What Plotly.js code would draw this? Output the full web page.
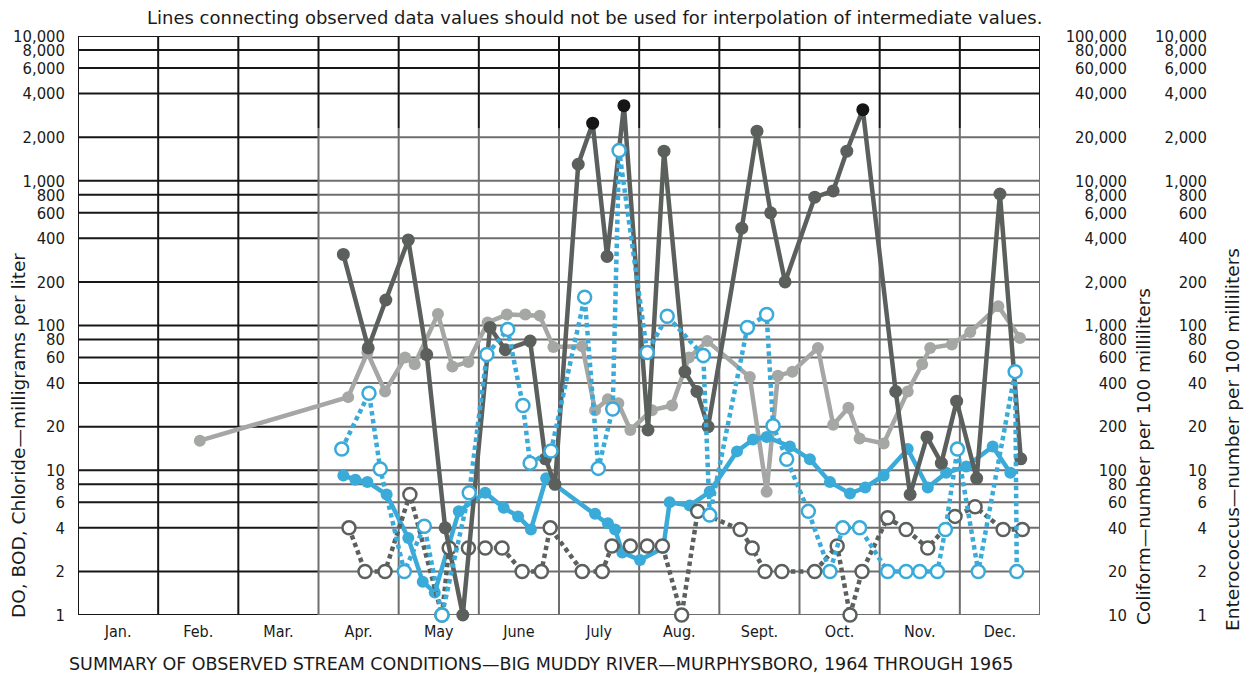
<!DOCTYPE html>
<html>
<head>
<meta charset="utf-8">
<script src="https://cdn.plot.ly/plotly-3.0.1.min.js"></script>
<style>
  html, body { margin: 0; padding: 0; background: #ffffff; }
  #chart { width: 1252px; height: 676px; }
</style>
</head>
<body>
<div id="chart"></div>
<script>
// ---------------- DATA ----------------
// x positions are expressed in months from Jan. 1 (0 = start of Jan., 12 = end of Dec.)
const monthLabels = ['Jan.', 'Feb.', 'Mar.', 'Apr.', 'May', 'June', 'July', 'Aug.', 'Sept.', 'Oct.', 'Nov.', 'Dec.'];
const monthCenters = [0.5, 1.5, 2.5, 3.5, 4.5, 5.5, 6.5, 7.5, 8.5, 9.5, 10.5, 11.5];

// Left scale ticks (DO, BOD, Chloride, mg/l)
const leftTicks = [1, 2, 4, 6, 8, 10, 20, 40, 60, 80, 100, 200, 400, 600, 800, 1000, 2000, 4000, 6000, 8000, 10000];
// Coliform scale ticks (number per 100 ml)
const coliformTicks = [10, 20, 40, 60, 80, 100, 200, 400, 600, 800, 1000, 2000, 4000, 6000, 8000, 10000, 20000, 40000, 60000, 80000, 100000];
// Enterococcus scale ticks (number per 100 ml)
const enteroTicks = [1, 2, 4, 6, 8, 10, 20, 40, 60, 80, 100, 200, 400, 600, 800, 1000, 2000, 4000, 6000, 8000, 10000];

// Coliform (dark grey, solid, filled circles) - number per 100 ml
const coliformX = [3.31, 3.62, 3.84, 4.12, 4.35, 4.58, 4.80, 5.14, 5.33, 5.64, 5.83, 5.95, 6.24, 6.42, 6.60, 6.81, 7.11, 7.31, 7.57, 7.72, 7.86, 8.28, 8.47, 8.64, 8.82, 9.19, 9.42, 9.59, 9.79, 10.20, 10.38, 10.59, 10.77, 10.96, 11.21, 11.50, 11.76];
const coliformY = [3100, 700, 1500, 3900, 630, 40, 10, 970, 680, 780, 120, 80, 13000, 25000, 3000, 33000, 190, 16000, 480, 350, 200, 4700, 22000, 6000, 2000, 7700, 8500, 16000, 31000, 350, 68, 170, 112, 300, 88, 8100, 120];

// Chloride (light grey, solid, filled circles) - mg/l
const chlorideX = [1.52, 3.37, 3.61, 3.83, 4.08, 4.20, 4.49, 4.67, 4.87, 5.11, 5.35, 5.58, 5.76, 5.93, 6.29, 6.45, 6.61, 6.74, 6.89, 7.16, 7.41, 7.62, 7.85, 8.38, 8.59, 8.73, 8.91, 9.23, 9.42, 9.61, 9.75, 10.05, 10.35, 10.53, 10.63, 10.90, 11.13, 11.48, 11.75];
const chlorideY = [16, 32, 65, 35, 60, 54, 120, 52, 56, 105, 119, 119, 117, 71, 72, 26, 31, 29, 19, 26, 28, 60, 78, 44, 7.1, 45, 48, 70, 20.6, 27, 16.6, 15.3, 35, 54, 70, 74, 90, 136, 82];

// Dissolved oxygen (blue, solid, filled circles) - mg/l
const doX = [3.31, 3.46, 3.61, 3.85, 4.12, 4.30, 4.45, 4.75, 5.08, 5.31, 5.49, 5.65, 5.84, 6.45, 6.61, 6.70, 6.79, 7.01, 7.30, 7.38, 7.63, 7.88, 8.22, 8.42, 8.59, 8.88, 9.13, 9.38, 9.63, 9.82, 10.05, 10.35, 10.60, 10.83, 11.08, 11.41, 11.63];
const doY = [9.2, 8.6, 8.3, 6.8, 3.4, 1.7, 1.43, 5.2, 7.0, 5.5, 4.8, 3.9, 8.8, 5.0, 4.3, 3.9, 2.7, 2.4, 2.9, 6.0, 5.7, 7.1, 13.5, 16.3, 17, 14.6, 11.9, 8.3, 6.9, 7.6, 9.2, 14, 7.6, 9.6, 10.6, 14.6, 9.6];

// Enterococcus (blue, dotted, open circles) - number per 100 ml
const enteroX = [3.29, 3.63, 3.77, 4.07, 4.32, 4.54, 4.88, 5.10, 5.36, 5.55, 5.64, 5.90, 6.32, 6.49, 6.67, 6.75, 7.10, 7.35, 7.80, 7.88, 8.35, 8.59, 8.67, 8.84, 9.11, 9.38, 9.54, 9.75, 10.10, 10.33, 10.50, 10.72, 10.82, 10.97, 11.23, 11.69, 11.71];
const enteroY = [14, 34, 10.2, 2.0, 4.1, 1.0, 7.0, 63, 94, 28, 11.2, 13.6, 157, 10.3, 26.5, 1620, 65, 116, 62, 4.9, 97, 119, 20.3, 11.9, 5.2, 2.0, 4.0, 4.0, 2.0, 2.0, 2.0, 2.0, 3.9, 14, 2.0, 48, 2.0];

// BOD (dark grey, dotted, open circles) - mg/l
const bodX = [3.38, 3.58, 3.83, 4.14, 4.54, 4.63, 4.87, 5.08, 5.29, 5.54, 5.78, 5.89, 6.29, 6.54, 6.66, 6.89, 7.10, 7.29, 7.53, 7.73, 8.26, 8.41, 8.57, 8.78, 9.19, 9.47, 9.63, 9.78, 10.10, 10.33, 10.60, 10.94, 11.19, 11.54, 11.78];
const bodY = [4.0, 2.0, 2.0, 6.8, 1.0, 2.9, 2.9, 2.9, 2.9, 2.0, 2.0, 4.0, 2.0, 2.0, 3.0, 3.0, 3.0, 3.0, 1.0, 5.2, 3.9, 2.9, 2.0, 2.0, 2.0, 3.0, 1.0, 2.0, 4.7, 3.9, 2.9, 4.8, 5.6, 3.9, 3.9];

// ---------------- STYLE ----------------
const FONT = "'DejaVu Sans Condensed', 'DejaVu Sans', sans-serif";
const FONT_WIDE = "'DejaVu Sans', sans-serif";
const DARK = '#5b605d';
const LIGHT = '#a5a7a5';
const BLUE = '#3aaad9';
const BLACK = '#161616';
const GRID = '#6e6e6e';

const fmt = v => v.toLocaleString('en-US');

// plot area geometry (px) used for free-axis and annotation placement
const W = 1252, H = 676;
const M = {l: 78, r: 10, t: 36, b: 61};
const paperW = W - M.l - M.r, paperH = H - M.t - M.b;
const plotRightPx = 1040;
const px2x = px => (px - M.l) / paperW;
const px2y = py => (H - M.b - py) / paperH;

// Grid drawn as shapes: black in the printed upper band and Jan.-Mar., grey elsewhere
const shapes = [];
const blackAbove = 2300;
const yMin = leftTicks[0], yMax = leftTicks[leftTicks.length - 1];
leftTicks.forEach(v => {
  if (v >= 4000) {
    shapes.push({type: 'line', xref: 'x', yref: 'y', x0: 0, x1: 12, y0: v, y1: v, line: {color: BLACK, width: 2}, layer: 'below'});
  } else {
    shapes.push({type: 'line', xref: 'x', yref: 'y', x0: 0, x1: 3, y0: v, y1: v, line: {color: BLACK, width: 2}, layer: 'below'});
    shapes.push({type: 'line', xref: 'x', yref: 'y', x0: 3, x1: 12, y0: v, y1: v, line: {color: GRID, width: 2}, layer: 'below'});
  }
});
for (let m = 0; m <= 12; m++) {
  if (m < 3) {
    shapes.push({type: 'line', xref: 'x', yref: 'y', x0: m, x1: m, y0: yMin, y1: yMax, line: {color: BLACK, width: 2}, layer: 'below'});
  } else {
    shapes.push({type: 'line', xref: 'x', yref: 'y', x0: m, x1: m, y0: yMin, y1: blackAbove, line: {color: GRID, width: 2}, layer: 'below'});
    shapes.push({type: 'line', xref: 'x', yref: 'y', x0: m, x1: m, y0: blackAbove, y1: yMax, line: {color: BLACK, width: 2}, layer: 'below'});
  }
}

// ---------------- TRACES ----------------
const dotDash = '4.5px,3.5px';
const traces = [
  {
    name: 'Chloride', x: chlorideX, y: chlorideY, yaxis: 'y', type: 'scatter', mode: 'lines+markers',
    line: {color: LIGHT, width: 4.5}, marker: {color: LIGHT, size: 12}, cliponaxis: false
  },
  {
    name: 'DO', x: doX, y: doY, yaxis: 'y', type: 'scatter', mode: 'lines+markers',
    line: {color: BLUE, width: 4.5}, marker: {color: BLUE, size: 12}, cliponaxis: false
  },
  {
    name: 'Enterococcus', x: enteroX, y: enteroY, yaxis: 'y3', type: 'scatter', mode: 'lines+markers',
    line: {color: BLUE, width: 4.5, dash: dotDash},
    marker: {color: '#ffffff', size: 13, line: {color: BLUE, width: 2.5}}, cliponaxis: false
  },
  {
    name: 'BOD', x: bodX, y: bodY, yaxis: 'y', type: 'scatter', mode: 'lines+markers',
    line: {color: DARK, width: 4.5, dash: dotDash},
    marker: {color: '#ffffff', size: 13, line: {color: DARK, width: 2.5}}, cliponaxis: false
  },
  {
    name: 'Coliform', x: coliformX, y: coliformY, yaxis: 'y2', type: 'scatter', mode: 'lines+markers',
    line: {color: DARK, width: 4.5},
    marker: {color: coliformY.map(v => v > blackAbove * 10 ? BLACK : DARK), size: 13}, cliponaxis: false
  }
];

// ---------------- LAYOUT ----------------
const tickFont = {family: FONT, size: 16.5, color: '#1a1a1a'};
const titleFont = {family: FONT_WIDE, size: 18.5, color: '#1a1a1a'};

const layout = {
  width: W, height: H,
  margin: M,
  paper_bgcolor: '#ffffff', plot_bgcolor: '#ffffff',
  showlegend: false,
  font: {family: FONT, color: '#1a1a1a'},
  xaxis: {
    domain: [0, (plotRightPx - M.l) / paperW],
    range: [0, 12], showgrid: false, zeroline: false, showline: false,
    tickmode: 'array', tickvals: monthCenters, ticktext: monthLabels,
    ticks: '', tickfont: {family: FONT, size: 16, color: '#1a1a1a'}, ticklabelstandoff: 5
  },
  yaxis: {
    type: 'log', range: [0, 4], showgrid: false, zeroline: false, showline: false,
    tickmode: 'array', tickvals: leftTicks, ticktext: leftTicks.map(fmt),
    ticks: '', tickfont: tickFont, ticklabelstandoff: 12
  },
  yaxis2: {
    type: 'log', range: [1, 5], overlaying: 'y', anchor: 'free', side: 'left',
    position: px2x(1127), showgrid: false, zeroline: false, showline: false,
    tickmode: 'array', tickvals: coliformTicks, ticktext: coliformTicks.map(fmt),
    ticks: '', tickfont: tickFont
  },
  yaxis3: {
    type: 'log', range: [0, 4], overlaying: 'y', anchor: 'free', side: 'left',
    position: px2x(1207), showgrid: false, zeroline: false, showline: false,
    tickmode: 'array', tickvals: enteroTicks, ticktext: enteroTicks.map(fmt),
    ticks: '', tickfont: tickFont
  },
  shapes: shapes,
  annotations: [
    {text: 'Lines connecting observed data values should not be used for interpolation of intermediate values.',
     xref: 'paper', yref: 'paper', x: px2x(594), y: px2y(17), xanchor: 'center', yanchor: 'middle',
     showarrow: false, font: {family: FONT_WIDE, size: 18, color: '#1a1a1a'}},
    {text: 'SUMMARY OF OBSERVED STREAM CONDITIONS—BIG MUDDY RIVER—MURPHYSBORO, 1964 THROUGH 1965',
     xref: 'paper', yref: 'paper', x: px2x(541), y: px2y(664), xanchor: 'center', yanchor: 'middle',
     showarrow: false, font: {family: FONT_WIDE, size: 17.5, color: '#1a1a1a'}},
    {text: 'DO, BOD, Chloride—milligrams per liter', textangle: -90,
     xref: 'paper', yref: 'paper', x: px2x(18), y: px2y(436), xanchor: 'center', yanchor: 'middle',
     showarrow: false, font: titleFont},
    {text: 'Coliform—number per 100 milliliters', textangle: -90,
     xref: 'paper', yref: 'paper', x: px2x(1143), y: px2y(457), xanchor: 'center', yanchor: 'middle',
     showarrow: false, font: titleFont},
    {text: 'Enterococcus—number per 100 milliliters', textangle: -90,
     xref: 'paper', yref: 'paper', x: px2x(1232), y: px2y(440), xanchor: 'center', yanchor: 'middle',
     showarrow: false, font: titleFont}
  ]
};

Plotly.newPlot('chart', traces, layout, {displayModeBar: false, staticPlot: true});
</script>
</body>
</html>
